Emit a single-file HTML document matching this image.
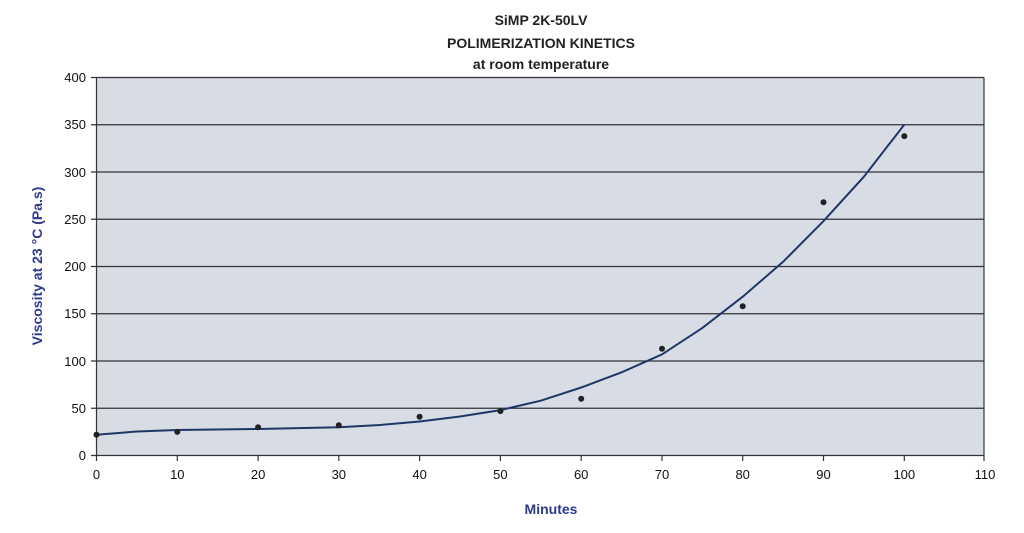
<!DOCTYPE html>
<html><head><meta charset="utf-8"><style>
html,body{margin:0;padding:0;background:#fff;}
svg{display:block;font-family:"Liberation Sans",Arial,sans-serif;}
</style></head><body>
<svg width="1024" height="533" viewBox="0 0 1024 533">
<g font-weight="bold" font-size="14" fill="#222" text-anchor="middle">
<text x="541" y="25">SiMP 2K-50LV</text>
<text x="541" y="48">POLIMERIZATION KINETICS</text>
<text x="541" y="69">at room temperature</text>
</g>
<rect x="96.5" y="77.5" width="887.5" height="378" fill="#d8dce5"/>
<g stroke="#333" stroke-width="1.2">
<line x1="91" y1="77.5" x2="984" y2="77.5"/>
<line x1="91" y1="124.75" x2="984" y2="124.75"/>
<line x1="91" y1="172" x2="984" y2="172"/>
<line x1="91" y1="219.25" x2="984" y2="219.25"/>
<line x1="91" y1="266.5" x2="984" y2="266.5"/>
<line x1="91" y1="313.75" x2="984" y2="313.75"/>
<line x1="91" y1="361" x2="984" y2="361"/>
<line x1="91" y1="408.25" x2="984" y2="408.25"/>
<line x1="91" y1="455.5" x2="984" y2="455.5"/>
<line x1="96.5" y1="77.5" x2="96.5" y2="461"/>
<line x1="984" y1="77.5" x2="984" y2="461"/>
<line x1="177.3" y1="455.5" x2="177.3" y2="461"/>
<line x1="258.1" y1="455.5" x2="258.1" y2="461"/>
<line x1="338.8" y1="455.5" x2="338.8" y2="461"/>
<line x1="419.6" y1="455.5" x2="419.6" y2="461"/>
<line x1="500.4" y1="455.5" x2="500.4" y2="461"/>
<line x1="581.2" y1="455.5" x2="581.2" y2="461"/>
<line x1="662" y1="455.5" x2="662" y2="461"/>
<line x1="742.7" y1="455.5" x2="742.7" y2="461"/>
<line x1="823.5" y1="455.5" x2="823.5" y2="461"/>
<line x1="904.3" y1="455.5" x2="904.3" y2="461"/>
</g>
<g font-size="13" fill="#111" text-anchor="end">
<text x="86" y="82">400</text><text x="86" y="129">350</text><text x="86" y="177">300</text>
<text x="86" y="224">250</text><text x="86" y="271">200</text><text x="86" y="318">150</text>
<text x="86" y="366">100</text><text x="86" y="413">50</text><text x="86" y="460">0</text>
</g>
<g font-size="13" fill="#111" text-anchor="middle">
<text x="96.5" y="479">0</text><text x="177.3" y="479">10</text><text x="258.1" y="479">20</text>
<text x="338.8" y="479">30</text><text x="419.6" y="479">40</text><text x="500.4" y="479">50</text>
<text x="581.2" y="479">60</text><text x="662" y="479">70</text><text x="742.7" y="479">80</text>
<text x="823.5" y="479">90</text><text x="904.3" y="479">100</text><text x="985" y="479">110</text>
</g>
<text x="551" y="514" font-size="14" font-weight="bold" fill="#2e3a8c" text-anchor="middle">Minutes</text>
<text transform="translate(42,266) rotate(-90)" font-size="14" font-weight="bold" fill="#2e3a8c" text-anchor="middle">Viscosity at 23 °C (Pa.s)</text>
<polyline fill="none" stroke="#1f3766" stroke-width="2" points="96.5,434.7 137,431.5 177.3,430 258.1,429 338.8,427.2 380,425 419.6,421.5 460,416.5 500.4,410.1 540.8,400.7 581.2,387.5 621.6,372.3 662,354.4 702.4,327.9 742.7,296.7 783.1,261.8 823.5,221.1 863.9,176.7 904.3,124.6"/>
<g fill="#222">
<circle cx="96.5" cy="434.7" r="3"/><circle cx="177.3" cy="431.9" r="3"/><circle cx="258.1" cy="427.2" r="3"/>
<circle cx="338.8" cy="425.3" r="3"/><circle cx="419.6" cy="416.8" r="3"/><circle cx="500.4" cy="411.1" r="3"/>
<circle cx="581.2" cy="398.8" r="3"/><circle cx="662" cy="348.7" r="3"/><circle cx="742.7" cy="306.2" r="3"/>
<circle cx="823.5" cy="202.2" r="3"/><circle cx="904.3" cy="136.1" r="3"/>
</g>
</svg>
</body></html>
